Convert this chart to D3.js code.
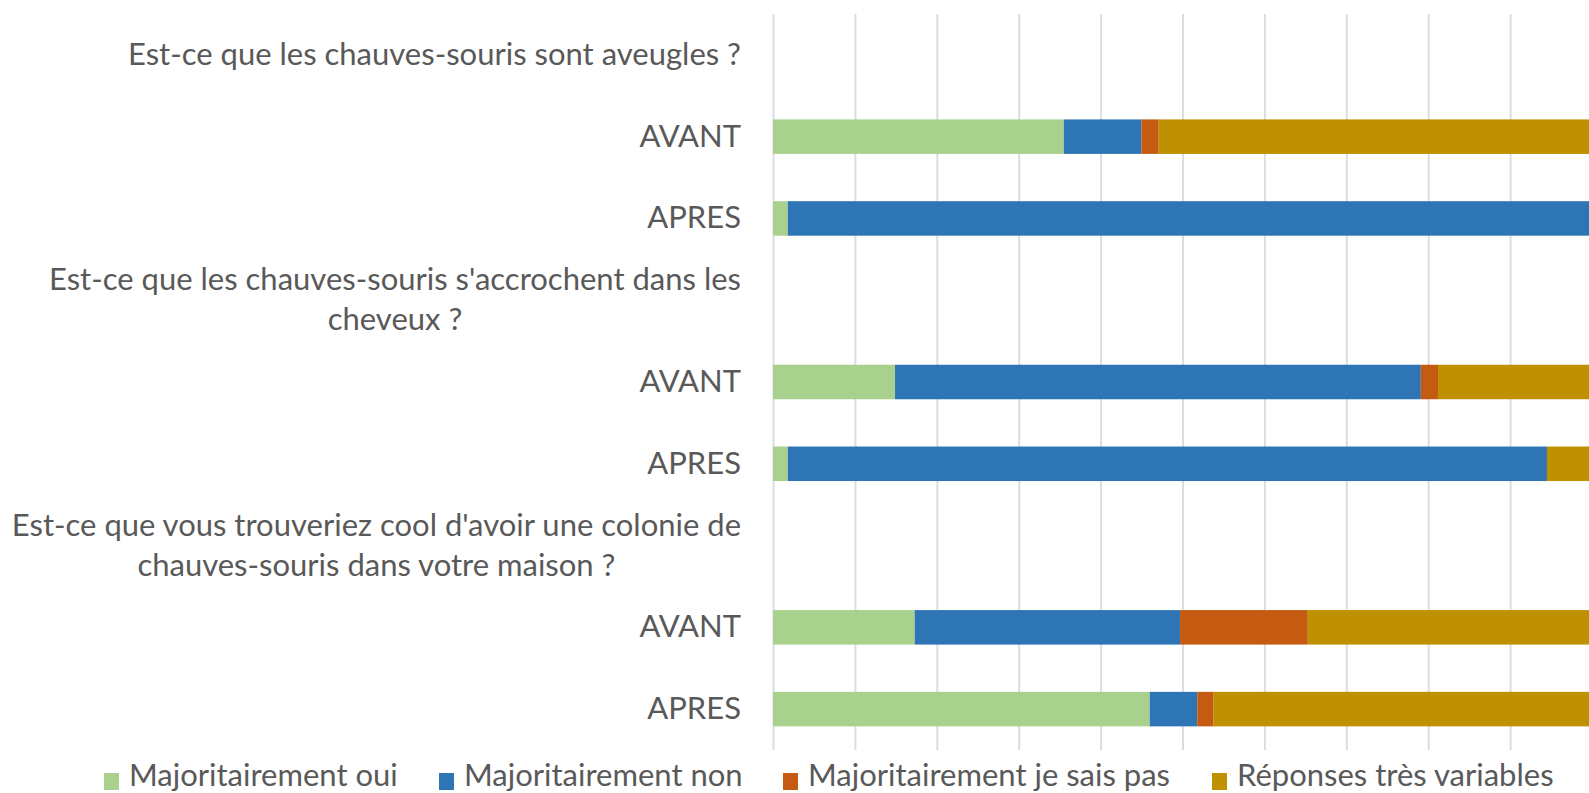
<!DOCTYPE html>
<html>
<head>
<meta charset="utf-8">
<script src="https://cdn.jsdelivr.net/npm/d3@7"></script>
<style>
  body { margin: 0; background: #fff; overflow: hidden; }
  svg { display: block; font-family: "Lato", "Open Sans", sans-serif; }
</style>
</head>
<body>
<svg id="chart"></svg>
<script>
// libellés de l'axe vertical (les questions n'ont pas de barre)
const categories = [
    "Est-ce que les chauves-souris sont aveugles ?",
    "AVANT",
    "APRES",
    "Est-ce que les chauves-souris s'accrochent dans les\ncheveux ?",
    "AVANT",
    "APRES",
    "Est-ce que vous trouveriez cool d'avoir une colonie de\nchauves-souris dans votre maison ?",
    "AVANT",
    "APRES"
];

// séries (part des réponses)
const seriesNames = ["Majoritairement oui", "Majoritairement non", "Majoritairement je sais pas", "Réponses très variables"];
const oui      = [0, 0.355, 0.018, 0, 0.149, 0.018, 0, 0.173, 0.460];
const non      = [0, 0.095, 0.982, 0, 0.642, 0.927, 0, 0.324, 0.058];
const saisPas  = [0, 0.021, 0,     0, 0.021, 0,     0, 0.156, 0.020];
const variable = [0, 0.529, 0,     0, 0.188, 0.055, 0, 0.347, 0.462];
const xTicks = [0, 0.1, 0.2, 0.3, 0.4, 0.5, 0.6, 0.7, 0.8, 0.9, 1];

const colors = ["#a9d18e", "#2e75b6", "#c55a11", "#bf9000"];

const width = 1589, height = 793;
const plot = { left: 773, right: 1592, top: 14, bottom: 750 };

const svg = d3.select("#chart")
    .attr("width", width)
    .attr("height", height);

const x = d3.scaleLinear().domain([0, 1]).range([plot.left, plot.right]);
const y = d3.scaleBand()
    .domain(d3.range(categories.length))
    .range([plot.top, plot.bottom])
    .paddingInner(0.578)
    .paddingOuter(0.289);

// grille verticale
svg.append("g")
    .attr("transform", `translate(0, ${plot.bottom})`)
    .call(d3.axisBottom(x).tickValues(xTicks).tickSize(plot.bottom - plot.top).tickFormat(""))
    .call(g => g.select(".domain").remove())
    .call(g => g.selectAll(".tick line")
        .attr("y2", -(plot.bottom - plot.top))
        .attr("stroke", "#d9dde6")
        .attr("stroke-width", 2));

// données empilées
const rows = categories.map((c, i) => ({ i, s0: oui[i], s1: non[i], s2: saisPas[i], s3: variable[i] }));
const stack = d3.stack().keys(["s0", "s1", "s2", "s3"]);
const stacked = stack(rows);

svg.append("g")
    .selectAll("g")
    .data(stacked)
    .join("g")
    .attr("fill", (d, k) => colors[k])
    .selectAll("rect")
    .data(d => d.filter(p => p[1] > p[0]))
    .join("rect")
    .attr("x", d => x(d[0]))
    .attr("y", d => y(d.data.i))
    .attr("width", d => x(d[1]) - x(d[0]))
    .attr("height", y.bandwidth());

// libellés des catégories
const labelRight = 741;
const lineH = 40;
const labels = svg.append("g")
    .attr("fill", "#595959")
    .style("font-size", "31px");

categories.forEach((c, i) => {
    const lines = c.split("\n");
    const cy = y(i) + y.bandwidth() / 2 - 2;
    const t = labels.append("text")
        .attr("text-anchor", "end")
        .attr("dominant-baseline", "central");
    if (lines.length === 1) {
        t.attr("x", labelRight).attr("y", cy).text(c);
    } else {
        // lignes centrées entre elles, bloc aligné à droite
        lines.forEach((l, j) => {
            t.append("tspan")
                .attr("x", labelRight)
                .attr("y", cy + (j - (lines.length - 1) / 2) * lineH)
                .text(l);
        });
        const w = t.node().getBBox().width;
        t.attr("text-anchor", "middle");
        t.selectAll("tspan").attr("x", labelRight - w / 2);
    }
});

// légende
const legendX = [104, 439, 783, 1212];
const legend = svg.append("g")
    .attr("transform", `translate(0, 773)`);
seriesNames.forEach((name, k) => {
    legend.append("rect")
        .attr("x", legendX[k])
        .attr("y", 0)
        .attr("width", 15)
        .attr("height", 17)
        .attr("fill", colors[k]);
    legend.append("text")
        .attr("x", legendX[k] + 25)
        .attr("y", 13)
        .attr("fill", "#595959")
        .style("font-size", "31px")
        .text(name);
});
</script>
</body>
</html>
